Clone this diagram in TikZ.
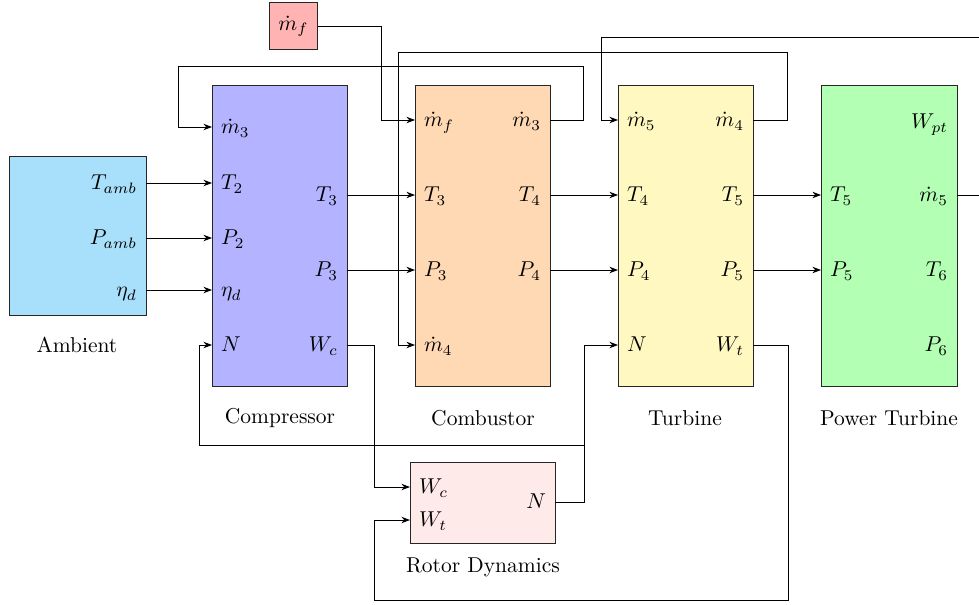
\documentclass[tikz,border=0pt]{standalone}
\usetikzlibrary{arrows.meta}

\definecolor{ambfill}{RGB}{168,223,250}
\definecolor{cmpfill}{RGB}{179,179,255}
\definecolor{cmbfill}{RGB}{255,217,179}
\definecolor{turfill}{RGB}{255,249,193}
\definecolor{ptufill}{RGB}{179,255,179}
\definecolor{fuelfill}{RGB}{255,179,179}
\definecolor{rotfill}{RGB}{255,234,234}

\begin{document}
\begin{tikzpicture}[x=0.465pt,y=-0.465pt,
  block/.style n args={2}{draw=black!85, anchor=north west, inner sep=0pt,
    minimum width=#1*0.465pt, minimum height=#2*0.465pt},
  portin/.style={anchor=west, inner sep=4pt, text height=7.5pt, text depth=1pt},
  portout/.style={anchor=east, inner sep=4pt, text height=7.5pt, text depth=1pt},
  caption/.style={anchor=center, inner sep=0pt},
  flow/.style={-{Stealth[length=4pt,width=3pt]}},
]
\useasboundingbox (0,0) rectangle (979,604);

% ---------------- blocks ----------------
\node[block={137}{159}, fill=ambfill] (amb) at (9,156) {};
\node[block={135}{301}, fill=cmpfill] (cmp) at (212,85) {};
\node[block={135}{301}, fill=cmbfill] (cmb) at (415,85) {};
\node[block={135}{301}, fill=turfill] (tur) at (618,85) {};
\node[block={136}{301}, fill=ptufill] (ptu) at (821,85) {};
\node[block={48}{47}, fill=fuelfill] (fuel) at (269,2) {$\dot m_f$};
\node[block={145}{81}, fill=rotfill] (rot) at (410,462) {};

% ---------------- captions ----------------
\node[caption] (ambcap) at (77,345) {Ambient};
\node[caption] (cmpcap) at (280,418) {Compressor};
\node[caption] (cmbcap) at (483,418) {Combustor};
\node[caption] (turcap) at (685,418) {Turbine};
\node[caption] (ptucap) at (889,418) {Power Turbine};
\node[caption] (rotcap) at (483,567) {Rotor Dynamics};

% ---------------- ports: ambient ----------------
\node[portout] (ambT) at (146,183) {$T_{amb}$};
\node[portout] (ambP) at (146,238) {$P_{amb}$};
\node[portout] (ambE) at (146,290) {$\eta_d$};

% ---------------- ports: compressor ----------------
\node[portin] (cmpM3) at (212,127) {$\dot m_3$};
\node[portin] (cmpT2) at (212,183) {$T_2$};
\node[portin] (cmpP2) at (212,238) {$P_2$};
\node[portin] (cmpE)  at (212,290) {$\eta_d$};
\node[portin] (cmpN)  at (212,345) {$N$};
\node[portout] (cmpT3) at (347,195) {$T_3$};
\node[portout] (cmpP3) at (347,270) {$P_3$};
\node[portout] (cmpWc) at (347,345) {$W_c$};

% ---------------- ports: combustor ----------------
\node[portin] (cmbMf) at (415,120) {$\dot m_f$};
\node[portin] (cmbT3) at (415,195) {$T_3$};
\node[portin] (cmbP3) at (415,270) {$P_3$};
\node[portin] (cmbM4) at (415,345) {$\dot m_4$};
\node[portout] (cmbM3) at (550,120) {$\dot m_3$};
\node[portout] (cmbT4) at (550,195) {$T_4$};
\node[portout] (cmbP4) at (550,270) {$P_4$};

% ---------------- ports: turbine ----------------
\node[portin] (turM5) at (618,120) {$\dot m_5$};
\node[portin] (turT4) at (618,195) {$T_4$};
\node[portin] (turP4) at (618,270) {$P_4$};
\node[portin] (turN)  at (618,345) {$N$};
\node[portout] (turM4) at (753,120) {$\dot m_4$};
\node[portout] (turT5) at (753,195) {$T_5$};
\node[portout] (turP5) at (753,270) {$P_5$};
\node[portout] (turWt) at (753,345) {$W_t$};

% ---------------- ports: power turbine ----------------
\node[portin] (ptuT5) at (821,195) {$T_5$};
\node[portin] (ptuP5) at (821,270) {$P_5$};
\node[portout] (ptuW)  at (957,122) {$W_{pt}$};
\node[portout] (ptuM5) at (957,195) {$\dot m_5$};
\node[portout] (ptuT6) at (957,270) {$T_6$};
\node[portout] (ptuP6) at (957,345) {$P_6$};

% ---------------- ports: rotor dynamics ----------------
\node[portin] (rotWc) at (410,487) {$W_c$};
\node[portin] (rotWt) at (410,520) {$W_t$};
\node[portout] (rotN) at (555,502) {$N$};

% ---------------- straight connections ----------------
\draw[flow] (ambT.east) -- (cmpT2.west);
\draw[flow] (ambP.east) -- (cmpP2.west);
\draw[flow] (ambE.east) -- (cmpE.west);
\draw[flow] (cmpT3.east) -- (cmbT3.west);
\draw[flow] (cmpP3.east) -- (cmbP3.west);
\draw[flow] (cmbT4.east) -- (turT4.west);
\draw[flow] (cmbP4.east) -- (turP4.west);
\draw[flow] (turT5.east) -- (ptuT5.west);
\draw[flow] (turP5.east) -- (ptuP5.west);

% ---------------- routed connections ----------------
\draw[flow] (fuel.east) -| (381,120) -- (cmbMf.west);
\draw[flow] (cmbM3.east) -- (583,120) |- (178,66) |- (cmpM3.west);
\draw[flow] (turM4.east) -- (787,120) |- (398,52) |- (cmbM4.west);
\draw[flow] (ptuM5.east) -- (1000,195) |- (601,37) |- (turM5.west);
\draw[flow] (cmpWc.east) -- (374,345) |- (rotWc.west);
\draw[flow] (turWt.east) -- (788,345) |- (374,600) |- (rotWt.west);
\draw[flow] (rotN.east) -- (584,502) |- (turN.west);
\coordinate (nsplit) at (584,445);
\draw[flow] (nsplit) -- (199,445) |- (cmpN.west);

\end{tikzpicture}
\end{document}
